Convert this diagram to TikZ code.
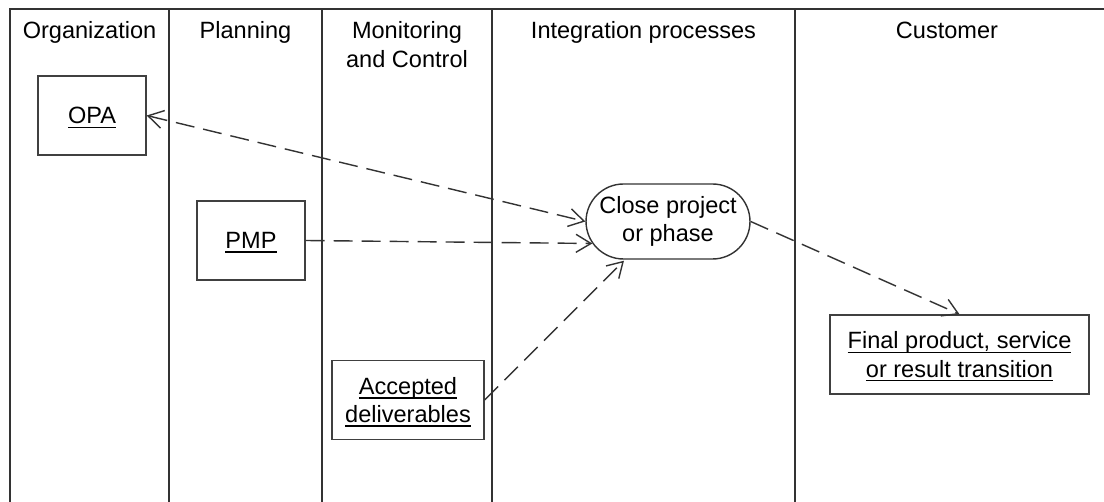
\documentclass[tikz,border=0pt]{standalone}
\usepackage{fontspec}
\setmainfont{Liberation Sans}
\usepackage{tikz}
\usetikzlibrary{%
	arrows.meta,% wg. Straight Barb
	positioning,%
	calc%
}
\newcommand{\lanefont}{\fontsize{13.4}{16}\selectfont}
\newsavebox{\ulbox}
\newcommand{\ultext}[1]{\sbox{\ulbox}{#1}\rlap{\rule[-2.4pt]{\wd\ulbox}{0.8pt}}\usebox{\ulbox}}
\tikzstyle{lane} = [draw = black!80, line width = 1pt]
\tikzstyle{header} = [anchor = north, inner sep = 0pt, align = center, font = \lanefont]
\tikzstyle{artifact} = [rectangle, draw = black!75, line width = 0.8pt, minimum height = 1.58cm, text depth = 0pt, align = center, font = \lanefont]
\tikzstyle{process} = [rectangle, rounded corners = 0.75cm, draw = black!80, line width = 0.8pt, minimum width = 3.28cm, minimum height = 1.5cm, inner sep = 0pt, align = center, font = \lanefont]
\tikzstyle{flow} = [draw = black!80, line width = 0.8pt, dash pattern = on 0.38cm off 0.18cm]

\begin{document}
\begin{tikzpicture}[x=0.02cm, y=-0.02cm, >={Straight Barb[length=0.3cm, width=0.36cm]}]
	\useasboundingbox (0,0) rectangle (1104,502);
	
	% First we draw the swimlanes
	\draw[lane] (1104,9) -- (10,9) -- (10,502);
	\foreach \xpos in {169, 322, 492, 795}
	\draw[lane] (\xpos,9) -- (\xpos,502);
	
	% Lane titles
	\foreach \pos/\name/\title in {{(89.5,21.5)/org/Organization}, {(245.5,21.5)/plan/Planning}, {(407,21.5)/mon/{Monitoring\\and Control}}, {(643.5,21.5)/integ/Integration processes}, {(947,21.5)/cust/Customer}}
	\node[header] (\name) at \pos {\title};
	
	% Then the artifacts
	\node[artifact, minimum width = 2.16cm] (opa) at (92,115.5) {\ultext{OPA}};
	\node[artifact, minimum width = 2.16cm] (pmp) at (251,240.5) {\ultext{PMP}};
	\node[artifact, minimum width = 3.04cm] (acc) at (408,400) {\ultext{Accepted}\\\ultext{deliverables}};
	\node[artifact, minimum width = 5.18cm] (final) at (959.5,354.5) {\ultext{Final product, service}\\\ultext{or result transition}};
	
	% and the process
	\node[process] (close) at (668,221.5) {Close project\\or phase};
	
	% Connect them with dashed flows
	\draw[flow, <->] (opa.east) -- (close.west);
	\draw[flow, ->] (pmp.east) -- ($(close.west)+(7,22)$);
	\draw[flow, ->] (acc.east) -- ($(close.south)+(-44,1)$);
	\draw[flow, ->] (close.east) -- (final.north);
	
\end{tikzpicture}
\end{document}
